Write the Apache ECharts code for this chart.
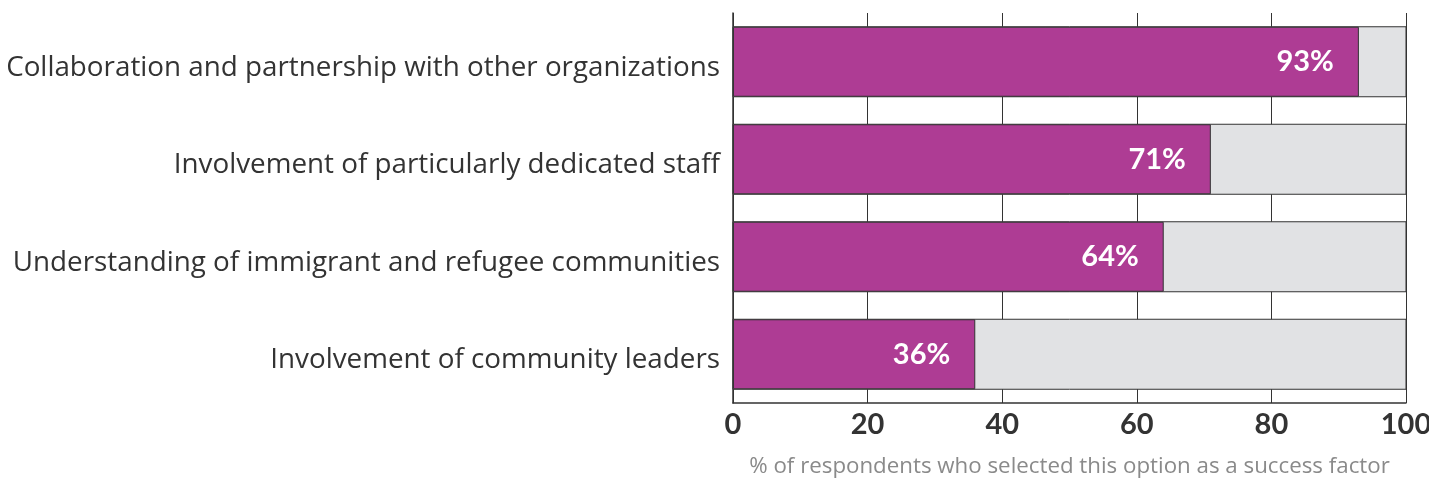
<!DOCTYPE html>
<html>
<head>
<meta charset="utf-8">
<style>
  html, body { margin: 0; padding: 0; background: #ffffff; overflow: hidden; }
  #chart { width: 1429px; height: 479px; }
</style>
<script src="https://cdn.jsdelivr.net/npm/echarts@6/dist/echarts.min.js"></script>
</head>
<body>
<div id="chart"></div>
<script>
// Success factors, top to bottom
const categories = [
  'Collaboration and partnership with other organizations',
  'Involvement of particularly dedicated staff',
  'Understanding of immigrant and refugee communities',
  'Involvement of community leaders'
];
// Share of respondents (%) selecting each factor
const shares = [93, 71, 64, 36];
// Value axis ticks
const axisTicks = [0, 20, 40, 60, 80, 100];

const TEXT_FONT = '"Open Sans", "Noto Sans", sans-serif';
const NUM_FONT = 'Lato, "Noto Sans", sans-serif';
const DARK = '#333333';

const chart = echarts.init(document.getElementById('chart'), null, {
  renderer: 'canvas', width: 1429, height: 479
});

chart.setOption({
  animation: false,
  grid: {
    left: 733, right: 23, top: 13, bottom: 76,
    containLabel: false,
    outerBoundsMode: 'none'
  },
  xAxis: {
    type: 'value',
    min: axisTicks[0],
    max: axisTicks[axisTicks.length - 1],
    interval: axisTicks[1] - axisTicks[0],
    name: '% of respondents who selected this option as a success factor',
    nameLocation: 'middle',
    nameGap: 53,
    nameTextStyle: { color: '#8a8a8a', fontSize: 22.3, fontFamily: TEXT_FONT },
    axisLine: { show: true, lineStyle: { color: DARK, width: 1.5 } },
    axisTick: { show: false },
    axisLabel: {
      color: DARK, fontSize: 29, fontWeight: 'bold', fontFamily: NUM_FONT, margin: 7
    },
    splitLine: { show: true, lineStyle: { color: DARK, width: 1 } }
  },
  yAxis: {
    type: 'category',
    data: categories,
    inverse: true,
    axisLine: { show: true, lineStyle: { color: DARK, width: 1.5 } },
    axisTick: { show: false },
    axisLabel: {
      color: DARK, fontSize: 27.8, fontFamily: TEXT_FONT, margin: 13,
      formatter: (value) => '{t|' + value + '}',
      rich: { t: { fontSize: 27.8, fontFamily: TEXT_FONT, color: DARK, padding: [12, 0, 0, 0] } }
    }
  },
  series: [{
    type: 'bar',
    data: shares,
    barWidth: 70,
    showBackground: true,
    backgroundStyle: { color: '#e1e2e4', borderColor: DARK, borderWidth: 1 },
    itemStyle: { color: '#ae3c94', borderColor: DARK, borderWidth: 1 },
    label: {
      show: true,
      position: 'insideRight',
      distance: 25,
      formatter: '{c}%',
      color: '#ffffff',
      fontSize: 29,
      fontWeight: 'bold',
      fontFamily: NUM_FONT
    }
  }]
});
</script>
</body>
</html>
